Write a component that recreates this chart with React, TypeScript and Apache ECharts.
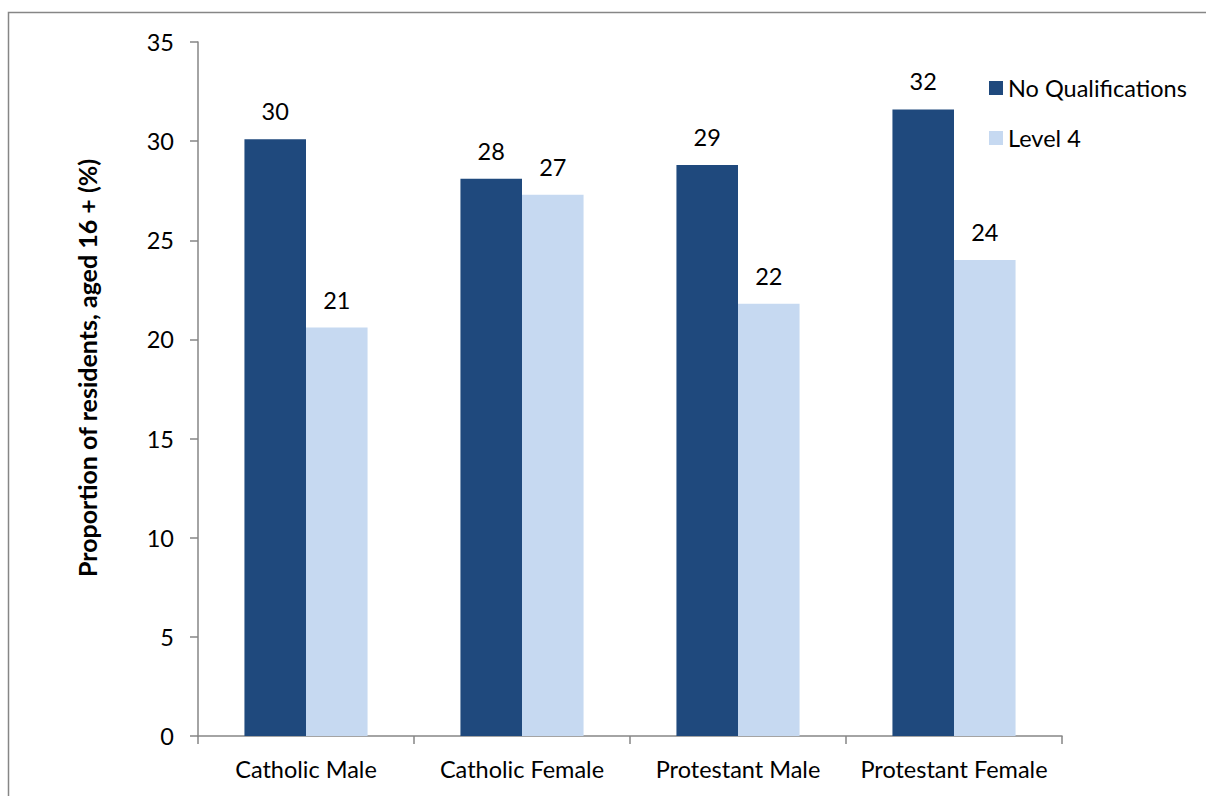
import React, { useEffect, useRef } from "react";
import * as echarts from "echarts";

const categories = ["Catholic Male", "Catholic Female", "Protestant Male", "Protestant Female"];
const noQualifications = [30.1, 28.1, 28.8, 31.6];
const level4 = [20.6, 27.3, 21.8, 24.0];
const seriesNames = ["No Qualifications", "Level 4"];
const yTicks = { min: 0, max: 35, interval: 5 };

const FONT = "Lato, 'Open Sans', sans-serif";
const AXIS = "#868686";
const FS = 23.5;

export default function App() {
  const ref = useRef<HTMLDivElement>(null);
  useEffect(() => {
    if (!ref.current) return;
    const chart = echarts.init(ref.current, null, { renderer: "svg" });
    const label = {
      show: true,
      position: "top",
      distance: 16,
      color: "#000",
      fontSize: FS,
      fontFamily: FONT,
      formatter: (p: any) => String(Math.round(p.value)),
    };
    chart.setOption({
      animation: false,
      textStyle: { fontFamily: FONT },
      grid: { left: 198, right: 144, top: 42, bottom: 60, containLabel: false },
      legend: {
        orient: "vertical",
        left: 984,
        top: 71,
        itemWidth: 14,
        itemHeight: 14,
        itemGap: 26,
        icon: "rect",
        textStyle: { fontSize: FS, fontFamily: FONT, color: "#000" },
        data: seriesNames,
      },
      graphic: [
        {
          type: "rect",
          shape: { x: 8.5, y: 12.5, width: 1200, height: 800 },
          style: { fill: "none", stroke: AXIS, lineWidth: 1.5 },
          silent: true,
        },
        {
          type: "text",
          x: 87,
          y: 368,
          rotation: Math.PI / 2,
          style: {
            text: "Proportion of residents, aged 16 + (%)",
            fontSize: 25,
            fontWeight: "bold",
            fontFamily: FONT,
            fill: "#000",
            align: "center",
            verticalAlign: "middle",
          },
        },
      ],
      xAxis: {
        type: "category",
        data: categories,
        axisLine: { lineStyle: { color: AXIS, width: 1.5 } },
        axisTick: { show: true, length: 8, alignWithLabel: false, lineStyle: { color: AXIS, width: 1.5 } },
        axisLabel: { fontSize: FS, fontFamily: FONT, color: "#000", margin: 21, interval: 0 },
      },
      yAxis: {
        type: "value",
        min: yTicks.min,
        max: yTicks.max,
        interval: yTicks.interval,
        axisLine: { show: true, lineStyle: { color: AXIS, width: 1.5 } },
        axisTick: { show: true, inside: false, length: 8, lineStyle: { color: AXIS, width: 1.5 } },
        splitLine: { show: false },
        axisLabel: { fontSize: FS, fontFamily: FONT, color: "#000", margin: 24 },
      },
      series: [
        {
          name: seriesNames[0],
          type: "bar",
          data: noQualifications,
          barWidth: "28.5%",
          barGap: "0%",
          itemStyle: { color: "#1F497D" },
          label,
        },
        {
          name: seriesNames[1],
          type: "bar",
          data: level4,
          barWidth: "28.5%",
          barGap: "0%",
          itemStyle: { color: "#C6D9F1" },
          label,
        },
      ],
    });
    return () => chart.dispose();
  }, []);
  return (
    <div
      ref={ref}
      style={{ position: "absolute", left: 0, top: 0, width: 1206, height: 796, background: "#fff" }}
    />
  );
}
